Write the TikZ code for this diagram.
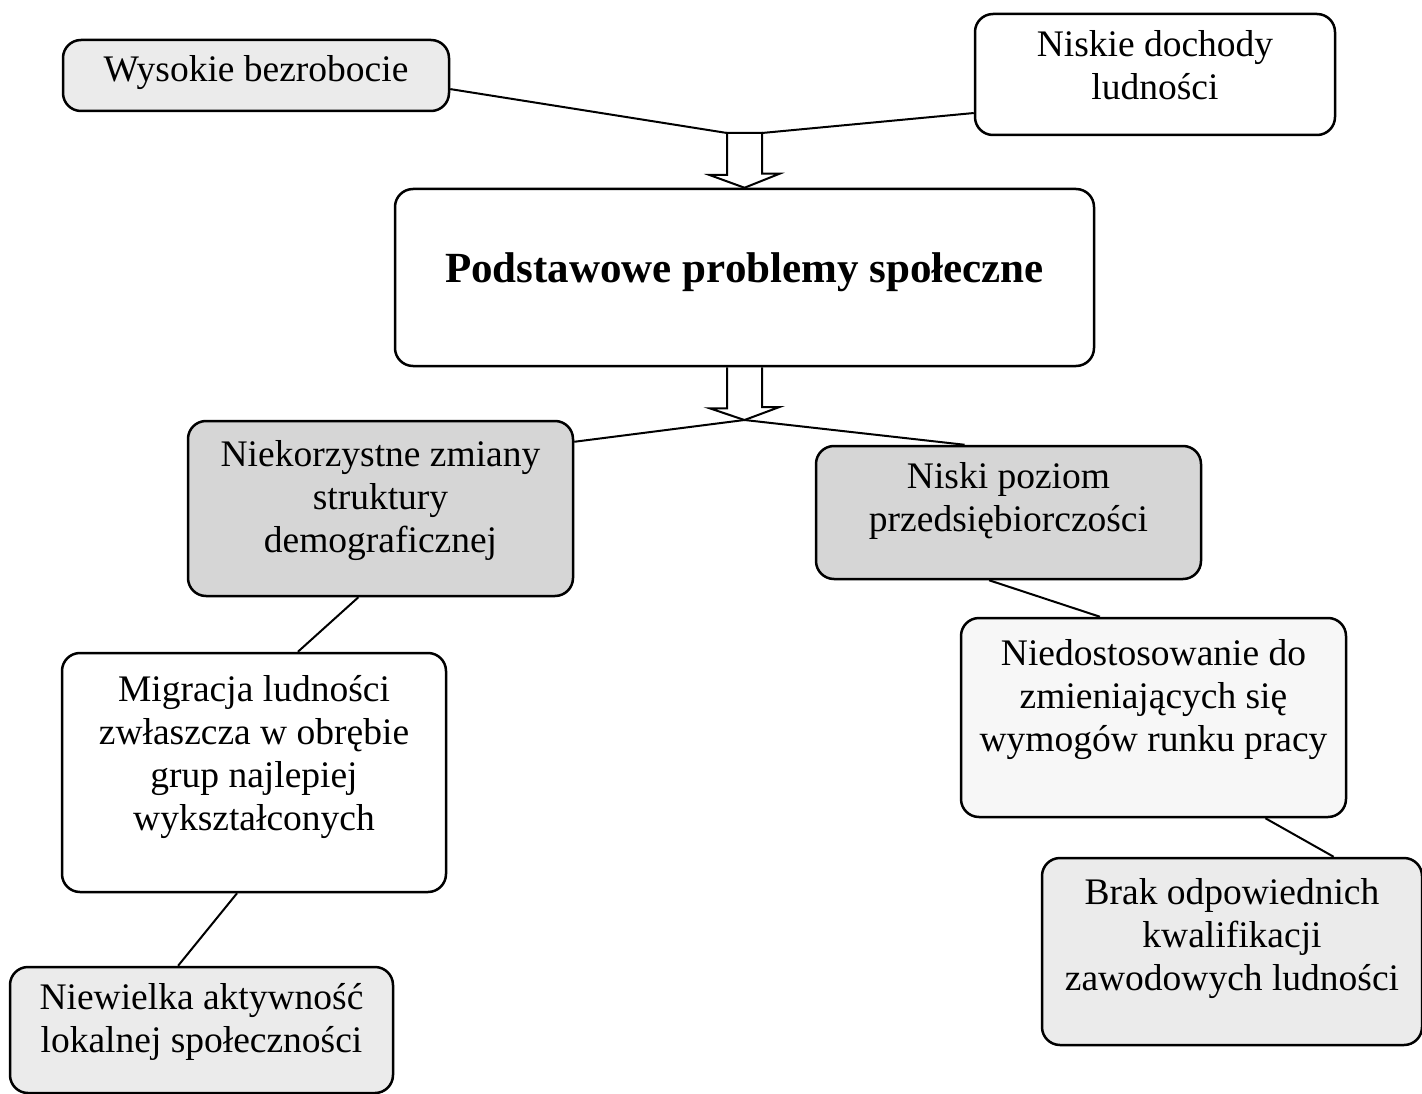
\documentclass[tikz,border=0pt]{standalone}
\usepackage{fontspec}
\setmainfont{Liberation Serif}
\usetikzlibrary{positioning}
\definecolor{boxdark}{gray}{0.84}
\definecolor{boxlight}{gray}{0.92}
\definecolor{boxpale}{gray}{0.97}

\begin{document}
\begin{tikzpicture}[x=1pt,y=-1pt,line width=2pt,
    box/.style={draw,line width=2.5pt,rounded corners=18pt,align=center,inner sep=0pt,
        font=\fontsize{37.5}{43}\selectfont},
    bigbox/.style={box,font=\fontsize{43}{50}\selectfont\bfseries}]
    \useasboundingbox (0,0) rectangle (1422,1094);

    % upper causes
    \node[box,fill=boxlight,minimum width=386pt,minimum height=71pt] (wys) at (256,75.5) {Wysokie bezrobocie\\[-28pt]};
    \node[box,fill=white,minimum width=360pt,minimum height=121pt] (nd) at (1155,74.5) {Niskie dochody\\ludności\\[-24pt]};

    % central box
    \node[bigbox,fill=white,minimum width=699pt,minimum height=177pt] (cent) at (744.5,277.5) {Podstawowe problemy społeczne\\[-30pt]};

    % consequences
    \node[box,fill=boxdark,minimum width=385pt,minimum height=175pt] (niek) at (380.5,508.5) {Niekorzystne zmiany\\struktury\\demograficznej\\[-18pt]};
    \node[box,fill=boxdark,minimum width=385pt,minimum height=133pt] (nis) at (1008.5,512.5) {Niski poziom\\przedsiębiorczości\\[-12pt]};
    \node[box,fill=white,minimum width=384pt,minimum height=239pt] (mig) at (254,772.5) {Migracja ludności\\zwłaszcza w obrębie\\grup najlepiej\\wykształconych\\[-3pt]};
    \node[box,fill=boxpale,minimum width=385pt,minimum height=199pt] (nied) at (1153.5,717.5) {Niedostosowanie do\\zmieniających się\\wymogów runku pracy\\[2pt]};
    \node[box,fill=boxlight,minimum width=383pt,minimum height=126pt] (niew) at (201.5,1030) {Niewielka aktywność\\lokalnej społeczności\\[-19pt]};
    \node[box,fill=boxlight,minimum width=380pt,minimum height=187pt] (brak) at (1232,951.5) {Brak odpowiednich\\kwalifikacji\\zawodowych ludności\\[-8pt]};

    % hollow arrow into the central box
    \coordinate (a1l) at (727,133);
    \coordinate (a1r) at (762,133);
    \draw (wys.-4) -- (a1l);
    \draw (nd.192) -- (a1r);
    \draw (a1l) -- ++(0,42) -- ++(-17.5,0) -- (cent.north) -- ++(35,-14) -- ++(-17.5,0) -- (a1r) -- cycle;

    % hollow arrow out of the central box
    \coordinate (tip2) at (744.5,420);
    \draw ([xshift=-17.5pt]cent.south) -- ++(0,41) -- ++(-17.5,0) -- (tip2) -- ++(35,-13) -- ++(-17.5,0) -- ([xshift=17.5pt]cent.south);
    \draw (niek.19) -- (tip2) -- (nis.123);

    \draw (niek.256) -- (mig.70);
    \draw (mig.262) -- (niew.110);
    \draw (nis.254) -- (nied.118);
    \draw (nied.-42.5) -- (brak.43);
\end{tikzpicture}
\end{document}
